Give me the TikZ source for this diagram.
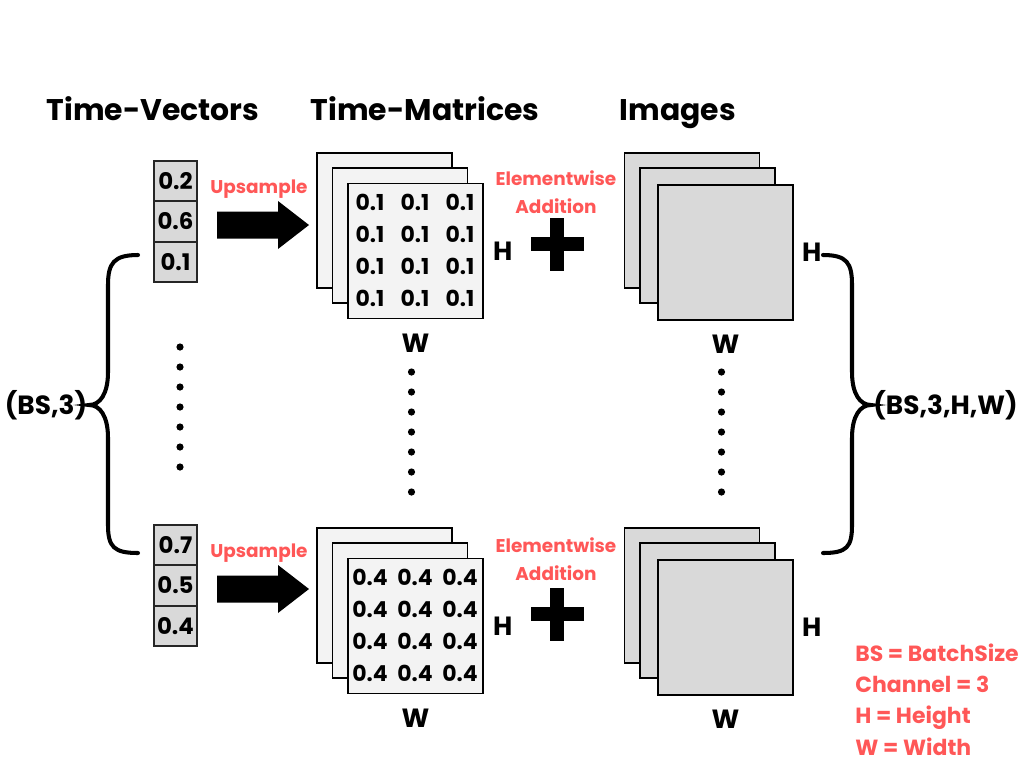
\documentclass[tikz,border=0pt]{standalone}
\usepackage{fontspec}
\setmainfont{Poppins}
\usetikzlibrary{positioning}
\definecolor{salmon}{HTML}{FF5757}
\definecolor{cellgray}{HTML}{D9D9D9}
\definecolor{sheetgray}{HTML}{F3F3F3}
\tikzset{
 title/.style={anchor=base,font=\fontsize{17}{20}\selectfont\bfseries},
 cell/.style={draw=black!85,line width=1.1pt,fill=cellgray,minimum width=0.86cm,minimum height=0.81cm,inner sep=0pt,font=\fontsize{13}{15}\selectfont\bfseries},
 sheet/.style={draw=black,line width=1.1pt,minimum size=2.7cm,inner sep=0pt},
 num/.style={inner sep=0pt,font=\fontsize{12.5}{15}\selectfont\bfseries},
 dim/.style={inner sep=0pt,font=\fontsize{15}{17}\selectfont\bfseries},
 redlabel/.style={text=salmon,align=center,font=\fontsize{10.5}{15.8}\selectfont\bfseries},
 brace/.style={line width=2.3pt,line cap=round},
 sizelab/.style={inner sep=0pt,font=\fontsize{15}{18}\selectfont\bfseries}
}
\begin{document}
\begin{tikzpicture}[x=0.02cm,y=-0.02cm]
\useasboundingbox (0,0) rectangle (1024,768);
% column titles
\node[title] (tvec) at (153,120) {Time-Vectors};
\node[title] (tmat) at (425,120) {Time-Matrices};
\node[title] (timg) at (678,120) {Images};
% first and last sample of the batch
\foreach \k/\dv/\dm/\m/\va/\vb/\vc in {1/0/0/0.1/0.2/0.6/0.1, 2/364/375/0.4/0.7/0.5/0.4}{
 % time vector
 \node[cell] (v\k-a) at (175.5,181+\dv) {\va};
 \node[cell,below=-1.1pt of v\k-a] (v\k-b) {\vb};
 \node[cell,below=-1.1pt of v\k-b] (v\k-c) {\vc};
 % upsample
 \coordinate (up\k) at (263,225+\dv);
 \fill (up\k) ++(-46,-13.5) -- ++(61,0) -- ++(0,-10.5) -- ++(31,24)
  -- ++(-31,24) -- ++(0,-10.5) -- ++(-61,0) -- cycle;
 \node[redlabel] (uplab\k) at (259,189+\dv) {Upsample};
 % time matrix, 3 channels
 \node[sheet,fill=sheetgray] (mb\k) at (384.5,220.5+\dm) {};
 \node[sheet,fill=sheetgray] (mm\k) at (400,235.5+\dm) {};
 \node[sheet,fill=sheetgray] (mf\k) at (415.5,251+\dm) {};
 \foreach \i in {0,1,2}
  \foreach \j in {0,1,2,3}
   \node[num] (n\k-\i-\j) at (370+45*\i,202+32*\j+\dm) {\m};
 \node[dim,right=5pt of mf\k] (mh\k) {H};
 \node[dim,below=8pt of mf\k] (mw\k) {W};
 % elementwise addition
 \node[redlabel] (addlab\k) at (556,192+\dm-8*\k+8) {Elementwise\\Addition};
 \coordinate (plus\k) at (557,244+\dm-5*\k+5);
 \fill (plus\k) ++(-26.5,-7) rectangle ++(53,14);
 \fill (plus\k) ++(-7,-26.5) rectangle ++(14,53);
 % image, 3 channels
 \node[sheet,fill=cellgray] (ib\k) at (692,220.5+\dm) {};
 \node[sheet,fill=cellgray] (im\k) at (707.5,235.5+\dm) {};
 \node[sheet,fill=cellgray] (if\k) at (725.5,252.5+\dm) {};
 \node[dim,right=4.5pt of if\k] (ih\k) {H};
 \node[dim,below=8pt of if\k] (iw\k) {W};
}
% dots in between
\foreach \y in {347,367,387,407,427,447,467}
 \fill (180,\y) circle (3.6);
\foreach \y in {372,392,412,432,452,472,492}{
 \fill (411.5,\y) circle (3.6);
 \fill (721.5,\y) circle (3.6);
}
% braces
\draw[brace] (138,255) .. controls (114,255) and (108,263) .. (108,285) -- (108,372)
 .. controls (108,394) and (100,405) .. (89,405)
 .. controls (100,405) and (108,416) .. (108,438) -- (108,525)
 .. controls (108,547) and (114,553) .. (138,553);
\draw[brace] (823,255) .. controls (847,255) and (852,263) .. (852,285) -- (852,372)
 .. controls (852,394) and (860,405) .. (871,405)
 .. controls (860,405) and (852,416) .. (852,438) -- (852,525)
 .. controls (852,547) and (847,553) .. (823,553);
\node[sizelab] (bsl) at (46,405) {(BS,3)};
\node[sizelab,anchor=west] (bsr) at (873,405) {(BS,3,H,W)};
% legend
\foreach \t [count=\n] in {BS = BatchSize,Channel = 3,H = Height,W = Width}
 \node[redlabel,anchor=base west,inner sep=0pt,font=\fontsize{12.5}{14}\selectfont\bfseries] (leg\n) at (855,630+31.3*\n) {\t};
\end{tikzpicture}
\end{document}
